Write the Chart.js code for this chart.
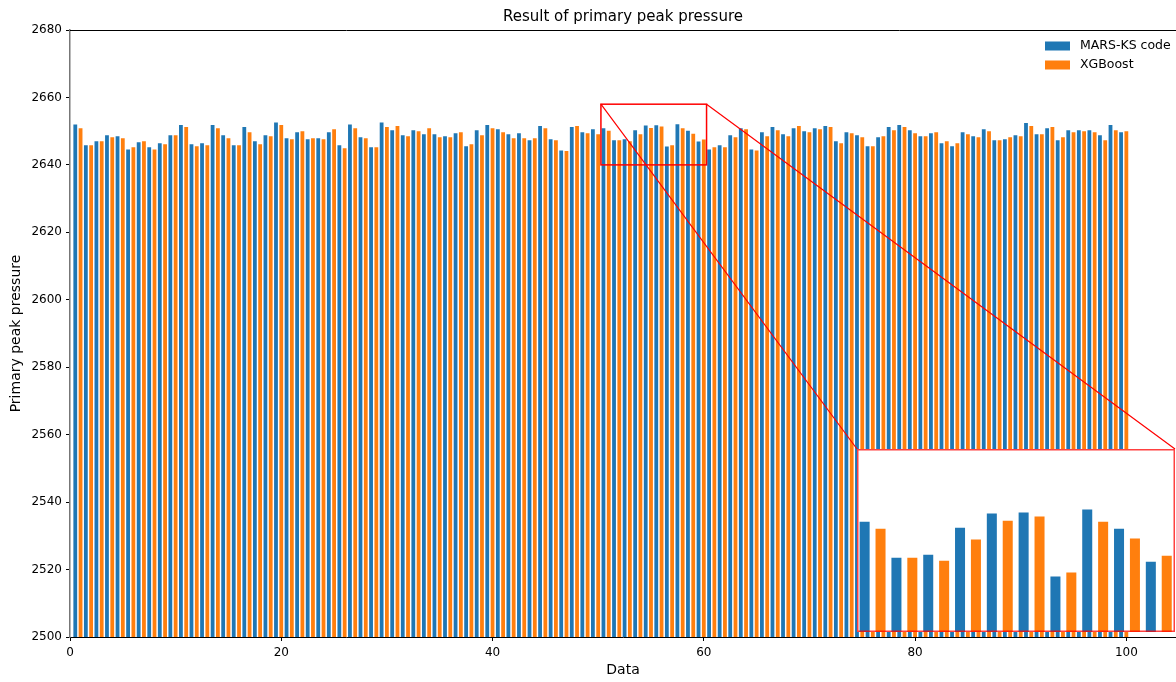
<!DOCTYPE html>
<html>
<head>
<meta charset="utf-8">
<script src="https://cdn.jsdelivr.net/npm/chart.js@4.4.1/dist/chart.umd.min.js"></script>
<style>
  html, body { margin: 0; padding: 0; background: #fff; }
  #wrap { position: relative; width: 1176px; height: 682px; }
  #insetBox { position: absolute; left: 857px; top: 449px; width: 318px; height: 183px; background: #fff; }
  canvas { display: block; }
</style>
</head>
<body>
<div id="wrap">
  <canvas id="main" width="1176" height="682"></canvas>
  <div id="insetBox"><canvas id="zoom" width="318" height="183"></canvas></div>
</div>
<script>
// values
const runs = [...Array(100).keys()];
const marsKs = [
  2652.0, 2645.8, 2647.0, 2648.8, 2648.5, 2644.6, 2646.7, 2645.2, 2646.4, 2648.8,
  2651.8, 2646.1, 2646.4, 2651.8, 2648.8, 2645.8, 2651.2, 2647.0, 2648.8, 2652.6,
  2647.9, 2649.7, 2647.6, 2647.9, 2649.7, 2645.8, 2652.0, 2648.2, 2645.2, 2652.6,
  2650.3, 2648.8, 2650.3, 2649.1, 2649.1, 2648.5, 2649.4, 2645.5, 2650.3, 2651.8,
  2650.6, 2649.1, 2649.4, 2647.3, 2651.5, 2647.6, 2644.3, 2651.2, 2649.7, 2650.6,
  2650.85, 2647.3, 2647.6, 2650.25, 2651.65, 2651.75, 2645.45, 2652.05, 2650.15, 2646.9,
  2644.6, 2645.8, 2648.8, 2650.9, 2644.6, 2649.7, 2651.2, 2649.1, 2650.9, 2650.0,
  2650.9, 2651.5, 2647.0, 2649.7, 2648.8, 2645.5, 2648.2, 2651.2, 2651.8, 2650.3,
  2648.5, 2649.4, 2646.4, 2645.5, 2649.7, 2648.5, 2650.6, 2647.3, 2647.6, 2648.8,
  2652.4, 2649.1, 2650.9, 2647.3, 2650.3, 2650.3, 2650.3, 2648.8, 2651.8, 2649.7
];
const xgboost = [
  2650.9, 2645.8, 2647.0, 2648.2, 2647.9, 2645.2, 2647.0, 2644.6, 2646.1, 2648.8,
  2651.2, 2645.5, 2645.8, 2650.9, 2647.9, 2645.8, 2649.7, 2646.1, 2648.5, 2651.8,
  2647.6, 2650.0, 2647.9, 2647.6, 2650.6, 2644.9, 2650.9, 2647.9, 2645.2, 2651.2,
  2651.5, 2648.5, 2650.0, 2650.9, 2648.2, 2648.2, 2649.7, 2646.1, 2648.8, 2650.9,
  2649.7, 2647.9, 2647.9, 2647.9, 2650.9, 2647.3, 2644.1, 2651.5, 2649.4, 2649.1,
  2650.15, 2647.3, 2647.0, 2649.1, 2650.95, 2651.35, 2645.85, 2650.85, 2649.2, 2647.5,
  2645.2, 2645.2, 2648.2, 2650.6, 2644.3, 2648.5, 2650.3, 2648.5, 2651.5, 2649.7,
  2650.6, 2651.2, 2646.4, 2649.4, 2648.2, 2645.5, 2648.5, 2650.3, 2651.2, 2649.4,
  2648.5, 2649.7, 2647.0, 2646.4, 2649.1, 2648.2, 2650.0, 2647.3, 2648.2, 2648.5,
  2651.5, 2649.1, 2651.2, 2648.2, 2649.7, 2650.0, 2649.7, 2647.3, 2650.3, 2650.0
];
const seriesNames = ['MARS-KS code', 'XGBoost'];
const xTicks = [0, 20, 40, 60, 80, 100];
const yTicks = [2500, 2520, 2540, 2560, 2580, 2600, 2620, 2640, 2660, 2680];
const zoomX = [50.26, 60.26];
const zoomY = [2640, 2658];

const BLUE = '#1f77b4', ORANGE = '#ff7f0e';
const FONT = "'DejaVu Sans', sans-serif";
const INSET = { left: 857, top: 449, w: 318, h: 183 };

function makeSets(pct) {
  return [
    { label: seriesNames[0], backgroundColor: BLUE, borderWidth: 0, barPercentage: pct,
      data: runs.map((r, i) => ({ x: r + 0.5, y: marsKs[i] })) },
    { label: seriesNames[1], backgroundColor: ORANGE, borderWidth: 0, barPercentage: pct,
      data: runs.map((r, i) => ({ x: r + 1.0, y: xgboost[i] })) }
  ];
}

const decor = {
  id: 'decor',
  afterDatasetsDraw(chart) {
    const { ctx, chartArea: a, scales: { x, y } } = chart;
    ctx.save();
    // top spine
    ctx.strokeStyle = '#000'; ctx.lineWidth = 1;
    ctx.beginPath(); ctx.moveTo(a.left, a.top + 0.5); ctx.lineTo(a.right, a.top + 0.5); ctx.stroke();

    // zoomed region + connectors
    const bx0 = x.getPixelForValue(zoomX[0]), bx1 = x.getPixelForValue(zoomX[1]);
    const by0 = y.getPixelForValue(zoomY[1]), by1 = y.getPixelForValue(zoomY[0]);
    ctx.strokeStyle = '#ff0000';
    ctx.lineWidth = 1.5;
    ctx.strokeRect(bx0, by0, bx1 - bx0, by1 - by0);
    ctx.lineWidth = 1.2;
    ctx.beginPath();
    ctx.moveTo(bx0, by0); ctx.lineTo(INSET.left, INSET.top);
    ctx.moveTo(bx1, by0); ctx.lineTo(INSET.left + INSET.w, INSET.top);
    ctx.stroke();

    // title centred over the axes
    ctx.fillStyle = '#000';
    ctx.font = '15px ' + FONT;
    ctx.textAlign = 'center'; ctx.textBaseline = 'middle';
    ctx.fillText('Result of primary peak pressure', (a.left + a.right) / 2, 17);

    // legend
    ctx.font = '12.5px ' + FONT;
    ctx.textAlign = 'left';
    [BLUE, ORANGE].forEach((c, k) => {
      const ty = a.top + 16 + k * 19;
      ctx.fillStyle = c;
      ctx.fillRect(a.right - 131, ty - 4.5, 25, 9);
      ctx.fillStyle = '#000';
      ctx.fillText(seriesNames[k], a.right - 96, ty);
    });
    ctx.restore();
  }
};

new Chart(document.getElementById('main'), {
  type: 'bar',
  data: { datasets: makeSets(0.72) },
  options: {
    responsive: false,
    animation: false,
    layout: { padding: { top: 30, right: 0, left: 0, bottom: 0 } },
    datasets: { bar: { grouped: false, categoryPercentage: 1.0 } },
    plugins: { legend: { display: false }, tooltip: { enabled: false } },
    scales: {
      x: {
        type: 'linear', offset: false, min: 0, max: 104.7,
        afterFit: s => { s.height = 45; },
        afterBuildTicks: s => { s.ticks = xTicks.map(v => ({ value: v })); },
        grid: { display: true, drawOnChartArea: false, tickLength: 4, tickColor: '#000', offset: false },
        border: { color: '#000', width: 1 },
        ticks: { color: '#000', font: { family: FONT, size: 12 }, padding: 5, maxRotation: 0, callback: v => String(v) },
        title: { display: true, text: 'Data', color: '#000', font: { family: FONT, size: 14 }, padding: { bottom: 3, top: 0 } }
      },
      y: {
        min: 2500, max: 2680,
        afterFit: s => { s.width = 70; },
        afterBuildTicks: s => { s.ticks = yTicks.map(v => ({ value: v })); },
        grid: { display: true, drawOnChartArea: false, tickLength: 4, tickColor: '#000' },
        border: { color: '#777', width: 1.5 },
        ticks: { color: '#000', font: { family: FONT, size: 12 }, padding: 4, callback: v => String(v) },
        title: { display: true, text: 'Primary peak pressure', color: '#000', font: { family: FONT, size: 14 }, padding: { top: 8, bottom: 0 } }
      }
    }
  },
  plugins: [decor]
});

const frame = {
  id: 'frame',
  afterDraw(chart) {
    const { ctx, width, height } = chart;
    ctx.save();
    ctx.strokeStyle = 'rgba(255,0,0,0.75)';
    ctx.lineWidth = 1.5;
    ctx.strokeRect(0.75, 0.75, width - 1.5, height - 1.5);
    ctx.restore();
  }
};

new Chart(document.getElementById('zoom'), {
  type: 'bar',
  data: { datasets: makeSets(0.63) },
  options: {
    responsive: false,
    animation: false,
    layout: { padding: 0 },
    datasets: { bar: { grouped: false, categoryPercentage: 1.0 } },
    plugins: { legend: { display: false }, tooltip: { enabled: false } },
    scales: {
      x: { type: 'linear', offset: false, min: zoomX[0], max: zoomX[1], display: false },
      y: { min: zoomY[0], max: zoomY[1], display: false }
    }
  },
  plugins: [frame]
});
</script>
</body>
</html>
